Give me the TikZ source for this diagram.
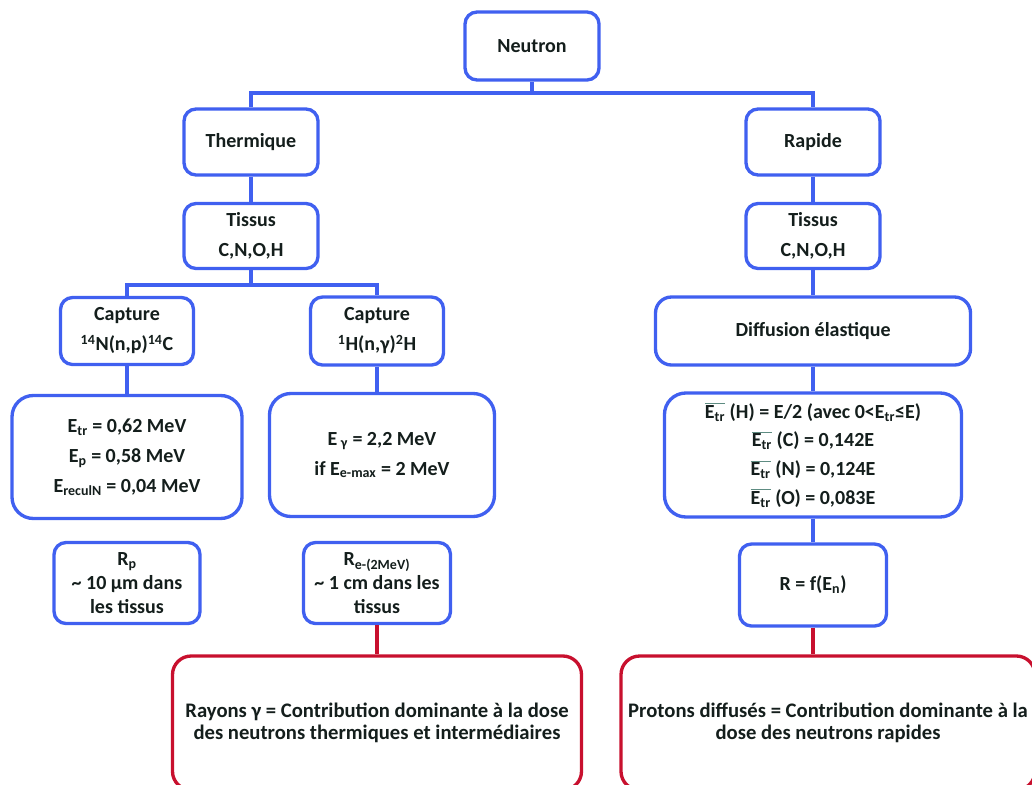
\documentclass[tikz,border=0pt]{standalone}
\usepackage{fontspec}
\setmainfont{Carlito}
\usepackage{xcolor}
\usepackage{tikz}
\definecolor{nblue}{HTML}{4060F0}
\definecolor{nred}{HTML}{C8102E}
\definecolor{ntext}{HTML}{141E1C}
\definecolor{obar}{HTML}{5E8C82}
\newcommand\Etr{{\color{obar}$\overline{\hbox{\color{ntext}E\textsubscript{tr}}}$}}

\begin{document}
\begin{tikzpicture}[
    x=0.75pt, y=-0.75pt,
    box/.style={draw=nblue, line width=2.5pt, rounded corners=9pt, fill=white,
                align=center, text=ntext, inner sep=2pt,
                font=\bfseries\fontsize{15}{22.5}\selectfont},
    redbox/.style={box, draw=nred, rounded corners=14pt,
                font=\bfseries\fontsize{15.5}{16.5}\selectfont},
    sz/.style 2 args={minimum width=#1*0.75pt, minimum height=#2*0.75pt},
    lnk/.style={draw=nblue, line width=2.5pt},
    rlnk/.style={draw=nred, line width=2.5pt}
  ]
  \useasboundingbox (0,0) rectangle (1032,785);
  \clip (0,0) rectangle (1032,785);
  % top levels
  \node[box, sz={134}{68}] (neutron) at (532,46) {Neutron};
  \node[box, sz={134}{66}] (therm) at (251,142) {Thermique};
  \node[box, sz={134}{66}] (rapid) at (813,142) {Rapide};
  \node[box, sz={134}{65}] (tisL) at (251,236) {Tissus\\C,N,O,H};
  \node[box, sz={134}{65}] (tisR) at (813,236) {Tissus\\C,N,O,H};
  % thermal branch
  \node[box, sz={133}{67}] (capN) at (127,331) {Capture\\\textsuperscript{14}N(n,p)\textsuperscript{14}C};
  \node[box, sz={133}{68}] (capH) at (377,331) {Capture\\\textsuperscript{1}H(n,γ)\textsuperscript{2}H};
  \node[box, sz={230}{123}, rounded corners=16pt] (eN) at (127,457)
    {E\textsubscript{tr} = 0,62 MeV\\E\textsubscript{p} = 0,58 MeV\\E\textsubscript{reculN} = 0,04 MeV};
  \node[box, sz={225}{123}, rounded corners=16pt] (eH) at (382,455)
    {E\,\textsubscript{γ} = 2,2 MeV\\if E\textsubscript{e-max} = 2 MeV};
  \node[box, sz={146}{81}, font=\bfseries\fontsize{15}{18}\selectfont] (rp) at (127,583)
    {R\textsubscript{p}\\\textasciitilde\ 10 µm dans\\les tissus};
  \node[box, sz={147}{81}, font=\bfseries\fontsize{15}{18}\selectfont] (re) at (377,583)
    {R\textsubscript{e-(2MeV)}\\\textasciitilde\ 1 cm dans les\\tissus};
  % fast branch
  \node[box, sz={315}{68}, rounded corners=12pt] (diff) at (813,331) {Diffusion élastique};
  \node[box, sz={297}{124}, rounded corners=16pt, font=\bfseries\fontsize{15}{21.5}\selectfont] (etr) at (813,455)
    {\Etr\ (H) = E/2 (avec 0<E\textsubscript{tr}≤E)\\\Etr\ (C) = 0,142E\\\Etr\ (N) = 0,124E\\\Etr\ (O) = 0,083E};
  \node[box, sz={147}{82}] (rf) at (813,585) {R = f(E\textsubscript{n})};
  % dose boxes
  \node[redbox, sz={409}{134}] (redL) at (377,723)
    {Rayons γ = Contribution dominante à la dose\\des neutrons thermiques et intermédiaires};
  \node[redbox, sz={414}{134}] (redR) at (828,723)
    {Protons diffusés = Contribution dominante à la\\dose des neutrons rapides};
  % connectors
  \coordinate (top) at (532,93);
  \coordinate (midL) at (251,285);
  \draw[lnk] (neutron) -- (top);
  \draw[lnk] (therm.north) |- (top) -| (rapid.north);
  \draw[lnk] (therm) -- (tisL);
  \draw[lnk] (rapid) -- (tisR);
  \draw[lnk] (tisL) -- (midL);
  \draw[lnk] (capN.north) |- (midL) -| (capH.north);
  \draw[lnk] (capN) -- (eN);
  \draw[lnk] (capH.south) -- (capH.south |- eH.north);
  \draw[lnk] (tisR) -- (diff);
  \draw[lnk] (diff) -- (etr);
  \draw[lnk] (etr) -- (rf);
  \draw[rlnk] (re) -- (redL);
  \draw[rlnk] (rf.south) -- (rf.south |- redR.north);
\end{tikzpicture}
\end{document}
